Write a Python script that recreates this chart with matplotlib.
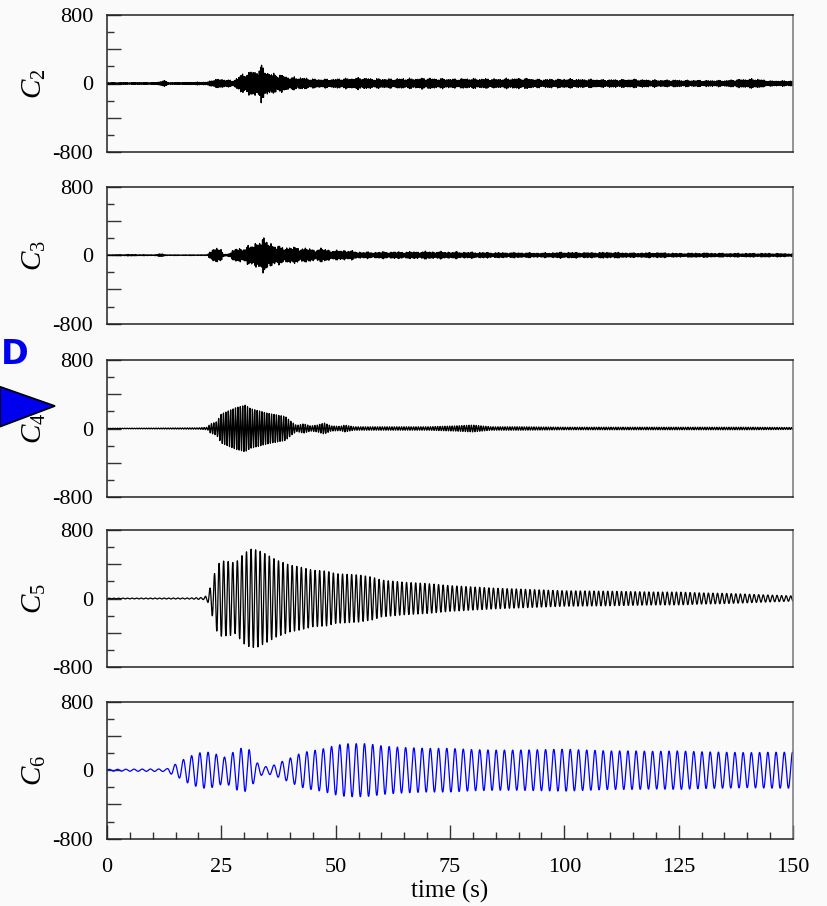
import numpy as np
import matplotlib
matplotlib.use('Agg')
import matplotlib.pyplot as plt
from matplotlib.patches import Polygon
from matplotlib.ticker import MultipleLocator, FixedLocator, FixedFormatter

plt.rcParams['font.family'] = 'Liberation Serif'
plt.rcParams['mathtext.fontset'] = 'custom'
plt.rcParams['mathtext.rm'] = 'Liberation Serif'
plt.rcParams['mathtext.it'] = 'Liberation Serif:italic'
plt.rcParams['axes.unicode_minus'] = False

# envelope of each IMF component: knot times (s) and peak amplitude
c2_t = [0, 11, 12.3, 13.5, 18, 22, 23.5, 26, 27.5, 29.5, 31.5, 33, 33.8, 35.5, 37.5, 40, 43, 46, 50,
        55, 60, 65, 70, 75, 80, 85, 90, 95, 100, 105, 110, 115, 120, 125, 130, 135, 140, 142, 145, 150]
c2_amp = [10, 12, 45, 10, 15, 20, 55, 55, 35, 120, 165, 170, 235, 140, 120, 85, 75, 55, 60,
          75, 60, 65, 70, 60, 65, 60, 70, 55, 60, 55, 50, 55, 45, 45, 40, 40, 60, 60, 35, 35]
c3_t = [0, 5, 10, 12, 13, 22, 23, 25, 25.5, 27, 28, 30, 31.5, 33, 34.3, 35.5, 37, 40, 43, 45, 47,
        50, 52, 55, 58, 60, 65, 70, 75, 80, 85, 90, 95, 100, 105, 110, 115, 120, 125, 130, 135, 140, 145, 150]
c3_amp = [5, 10, 5, 20, 5, 5, 100, 80, 10, 30, 90, 100, 130, 200, 215, 190, 120, 110, 100, 80, 90,
          60, 70, 45, 40, 45, 45, 50, 45, 40, 35, 35, 30, 40, 35, 40, 30, 35, 25, 30, 25, 25, 25, 20]
c4_t = [0, 10, 20, 22, 22.5, 24, 25, 26.5, 28, 30.2, 31.5, 33, 35, 37, 39, 40.5, 41.5, 43, 44.5,
        46, 47.5, 49, 51, 52, 54, 60, 70, 76, 80, 84, 90, 100, 110, 120, 130, 140, 150]
c4_amp = [3, 5, 8, 15, 50, 80, 170, 205, 240, 272, 230, 210, 180, 160, 140, 70, 35, 55, 30,
          40, 65, 30, 25, 40, 20, 20, 20, 30, 40, 20, 20, 15, 15, 15, 15, 15, 12]
c5_t = [0, 18, 21, 22, 23, 24, 25, 27, 28, 29, 30, 31.5, 33, 35, 37, 40, 42, 45, 48, 50, 55, 58,
        60, 65, 70, 75, 80, 85, 90, 95, 100, 110, 115, 120, 125, 130, 135, 140, 145, 150]
c5_amp = [4, 6, 12, 40, 200, 380, 440, 430, 410, 470, 530, 575, 565, 510, 450, 390, 370, 330, 320,
          290, 275, 250, 215, 190, 175, 150, 135, 120, 110, 100, 90, 85, 80, 75, 75, 65, 60, 50, 40, 30]
c6_t = [0, 13, 14.5, 15.5, 16.7, 18.7, 20.7, 22.5, 24.3, 25.9, 27.6, 29.3, 31.1, 32.7, 34.5, 36.5,
        38.4, 40.4, 42.2, 44, 45.8, 47.7, 49.3, 51.1, 52.8, 54.6, 56.4, 58.2, 60, 62, 65, 70, 75,
        80, 85, 90, 95, 100, 105, 110, 115, 120, 125, 130, 135, 140, 145, 150]
c6_amp = [10, 15, 60, 80, 125, 175, 210, 210, 180, 150, 210, 255, 240, 90, 40, 60,
          105, 150, 195, 220, 235, 255, 280, 300, 310, 310, 310, 300, 285, 275, 265, 255, 255,
          240, 235, 235, 240, 245, 235, 225, 225, 220, 225, 215, 210, 205, 210, 210]

# dominant frequency (Hz), burst frequencies (Hz) and reference peak time of each component
freqs = [6.0, 3.2, 1.9, 1.0, 1 / 1.8]
beats = [(0.43, 0.71), (0.31, 0.57), (0.0, 0.0), (0.0, 0.0), (0.0, 0.0)]
mix = [0.25, 0.15, 0.0, 0.0, 0.0]
peak_times = [33.8, 34.3, 30.2, 31.5, 16.7]

names = ['$C_2$', '$C_3$', '$C_4$', '$C_5$', '$C_6$']
colors = ['black', 'black', 'black', 'black', '#0000ff']
knots = [(c2_t, c2_amp), (c3_t, c3_amp), (c4_t, c4_amp), (c5_t, c5_amp), (c6_t, c6_amp)]

t = np.arange(0, 150.001, 0.02)


def imf(tk, ak, f, fb, m, t0):
    env = np.interp(t, tk, ak)
    s = t - t0
    mod = 1.0
    if fb[0] > 0:
        mod = 0.8 + 0.1 * np.cos(2 * np.pi * fb[0] * s) + 0.1 * np.cos(2 * np.pi * fb[1] * s)
    wave = (np.cos(2 * np.pi * f * s) + m * np.cos(2 * np.pi * 1.37 * f * s + 1.0)) / (1 + m)
    return env * mod * wave


bg = '#fafafa'
fig = plt.figure(figsize=(8.27, 9.06), dpi=100, facecolor=bg)
W, H = 827, 906
tops = [15, 186.7, 360, 530, 701.7]

for i, top in enumerate(tops):
    ax = fig.add_axes([107 / W, 1 - (top + 137) / H, 686 / W, 137 / H], facecolor=bg)
    y = imf(knots[i][0], knots[i][1], freqs[i], beats[i], mix[i], peak_times[i])
    ax.plot(t, y, color=colors[i], lw=0.9)
    ax.set_xlim(0, 150)
    ax.set_ylim(-800, 800)

    ax.yaxis.set_major_locator(FixedLocator([-800, -400, 0, 400, 800]))
    ax.yaxis.set_major_formatter(FixedFormatter(['-800', '', '0', '', '800']))
    ax.yaxis.set_minor_locator(MultipleLocator(200))
    ax.tick_params(axis='y', which='both', direction='in', left=True, right=False,
                   labelsize=16, pad=10, colors='#333333', labelcolor='black')
    ax.tick_params(axis='y', which='major', length=10, width=1)
    ax.tick_params(axis='y', which='minor', length=5, width=1)

    for s in ['left', 'bottom', 'top']:
        ax.spines[s].set_color('#222222')
    ax.spines['right'].set_color('#777777')
    for s in ax.spines.values():
        s.set_linewidth(1.1)

    ax.set_ylabel(names[i], fontsize=21)
    ax.yaxis.set_label_coords(-0.086, 0.5)

    if i == len(tops) - 1:
        ax.xaxis.set_major_locator(MultipleLocator(25))
        ax.xaxis.set_minor_locator(MultipleLocator(5))
        ax.tick_params(axis='x', which='both', direction='in', top=False,
                       labelsize=16, pad=14, colors='#333333', labelcolor='black')
        ax.tick_params(axis='x', which='major', length=10, width=1)
        ax.tick_params(axis='x', which='minor', length=5, width=1)
        ax.set_xlabel('time (s)', fontsize=18, labelpad=2)
    else:
        ax.tick_params(axis='x', which='both', bottom=False, labelbottom=False)

# blue marker on the left edge
fig.text(1 / W, 1 - 355 / H, 'D', ha='left', va='center', color='#0000ee',
         fontsize=24, fontweight='bold', family='DejaVu Sans')
tri = Polygon([[0, 1 - 386.7 / H], [55 / W, 1 - 406 / H], [0, 1 - 426.7 / H]],
              closed=True, transform=fig.transFigure, facecolor='#0000ee',
              edgecolor='black', lw=1.2, zorder=10, clip_on=False)
fig.patches.append(tri)

fig.savefig('out.png', dpi=100, facecolor=bg)
